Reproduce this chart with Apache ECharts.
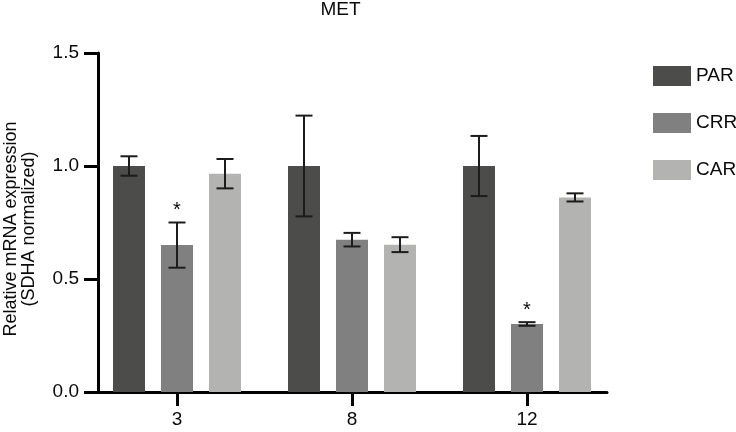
<!DOCTYPE html>
<html>
<head>
<meta charset="utf-8">
<script src="https://cdn.jsdelivr.net/npm/echarts@6/dist/echarts.min.js"></script>
<style>
html,body{margin:0;padding:0;background:#fff;}
#chart{width:736px;height:432px;}
</style>
</head>
<body>
<div id="chart"></div>
<script>
// ---- data ----
var categories = ['3', '8', '12'];
var seriesNames = ['PAR', 'CRR', 'CAR'];
var PAR = [1.0, 1.0, 1.0];
var PAR_err = [0.043, 0.223, 0.133];
var CRR = [0.65, 0.674, 0.301];
var CRR_err = [0.10, 0.03, 0.008];
var CAR = [0.966, 0.652, 0.861];
var CAR_err = [0.065, 0.033, 0.018];
var CRR_sig = ['*', '', '*'];
var PAR_sig = ['', '', ''];
var CAR_sig = ['', '', ''];
var yTicks = [0, 0.5, 1.0, 1.5];

// ---- styles ----
var FONT = "'Liberation Sans', Arial, Helvetica, sans-serif";
var TXT = '#0a0a0a';
var colors = ['#4c4c4a', '#808080', '#b3b3b2'];
var BAR_W = 32, GAP_FRAC = 0.5;
var ERR_COLOR = '#1c1c1c';

var values = [PAR, CRR, CAR];
var errs = [PAR_err, CRR_err, CAR_err];
var sigs = [PAR_sig, CRR_sig, CAR_sig];

var chart = echarts.init(document.getElementById('chart'), null, {renderer: 'canvas'});

var series = [];
seriesNames.forEach(function (name, i) {
  series.push({
    name: name, type: 'bar', xAxisIndex: 1, yAxisIndex: 1,
    data: values[i], barWidth: BAR_W, barGap: (GAP_FRAC * 100) + '%',
    itemStyle: {color: colors[i]}, silent: true, z: 2
  });
});
seriesNames.forEach(function (name, i) {
  var offset = (i - 1) * BAR_W * (1 + GAP_FRAC);
  series.push({
    name: name + ' error', type: 'custom', xAxisIndex: 1, yAxisIndex: 1, z: 4,
    data: values[i].map(function (v, k) { return [k, v, errs[i][k], k]; }),
    encode: {x: 0, y: 1},
    renderItem: function (params, api) {
      var k = api.value(3);
      var v = api.value(1), e = api.value(2);
      var top = api.coord([api.value(0), v + e]);
      var bot = api.coord([api.value(0), v - e]);
      var x = top[0] + offset;
      var hw = 8.5;
      var st = {stroke: ERR_COLOR, lineWidth: 2};
      var children = [
        {type: 'line', shape: {x1: x, y1: top[1], x2: x, y2: bot[1]}, style: st},
        {type: 'line', shape: {x1: x - hw, y1: top[1], x2: x + hw, y2: top[1]}, style: st},
        {type: 'line', shape: {x1: x - hw, y1: bot[1], x2: x + hw, y2: bot[1]}, style: st}
      ];
      var s = sigs[i][k];
      if (s) {
        children.push({type: 'text', style: {
          text: s, x: x, y: top[1] - 2, align: 'center', verticalAlign: 'bottom',
          font: '20px ' + FONT, fill: TXT
        }});
      }
      return {type: 'group', children: children};
    }
  });
});

var option = {
  backgroundColor: '#fff',
  animation: false,
  textStyle: {fontFamily: FONT},
  graphic: [
    {type: 'text', x: 340.5, y: 9.5, style: {text: 'MET', font: '19px ' + FONT, fill: TXT, align: 'center', verticalAlign: 'middle'}},
    {type: 'text', x: 20, y: 229, rotation: Math.PI / 2, style: {
      text: 'Relative mRNA expression\n(SDHA normalized)', font: '18px ' + FONT, fill: TXT,
      align: 'center', verticalAlign: 'middle', lineHeight: 18
    }}
  ],
  legend: {
    data: seriesNames, orient: 'vertical', left: 653, top: 66, padding: 0,
    itemWidth: 38, itemHeight: 20, itemGap: 27, icon: 'rect',
    textStyle: {fontSize: 19, color: TXT, fontFamily: FONT}, selectedMode: false
  },
  grid: [
    {left: 98, width: 509, top: 53, height: 339, containLabel: false},
    {left: 89.5, width: 525, top: 53, height: 339, containLabel: false}
  ],
  xAxis: [
    {type: 'value', gridIndex: 0, min: 0, max: 1,
      axisLine: {show: true, lineStyle: {color: '#000', width: 3}},
      axisTick: {show: false}, axisLabel: {show: false}, splitLine: {show: false}},
    {type: 'category', gridIndex: 1, data: categories,
      axisLine: {show: false},
      axisTick: {show: true, alignWithLabel: true, length: 14, lineStyle: {color: '#000', width: 3}},
      axisLabel: {margin: 18, fontSize: 19, color: TXT, fontFamily: FONT},
      splitLine: {show: false}}
  ],
  yAxis: [
    {type: 'value', gridIndex: 0, min: yTicks[0], max: yTicks[yTicks.length - 1], interval: 0.5,
      axisLine: {show: true, lineStyle: {color: '#000', width: 3}},
      axisTick: {show: true, length: 14, lineStyle: {color: '#000', width: 3}},
      axisLabel: {margin: 19, fontSize: 19, color: TXT, fontFamily: FONT,
        formatter: function (v) { return v.toFixed(1); }},
      splitLine: {show: false}},
    {type: 'value', gridIndex: 1, min: yTicks[0], max: yTicks[yTicks.length - 1], interval: 0.5,
      show: false, splitLine: {show: false}}
  ],
  series: series
};
chart.setOption(option);
</script>
</body>
</html>
